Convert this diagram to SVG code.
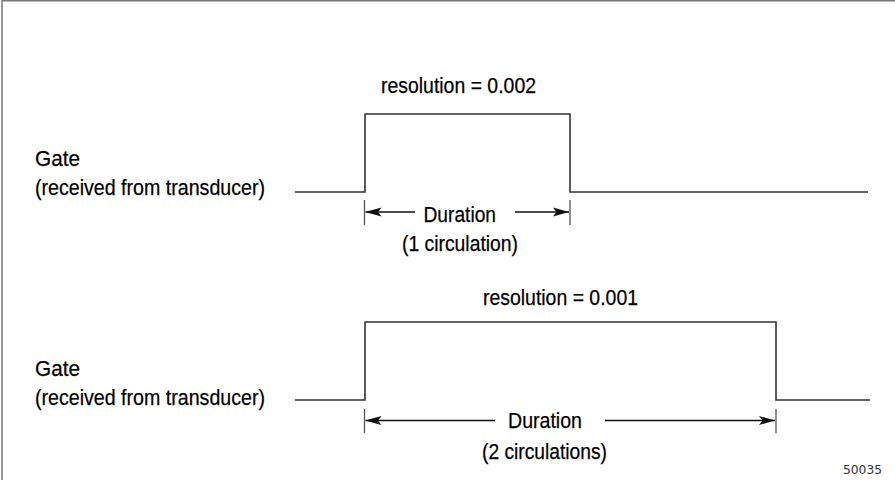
<svg xmlns="http://www.w3.org/2000/svg" width="895" height="480" viewBox="0 0 895 480">
<style>
  .t { font-family: "Liberation Sans", Arial, sans-serif; font-size: 22px; fill: #000; stroke: #000; stroke-width: 0.25; }
  .wave { fill: none; stroke: #333; stroke-width: 1.6; }
  .tick { stroke: #555; stroke-width: 1.3; }
  .arr { stroke: #111; stroke-width: 1.4; fill: none; }
  .frame { stroke: #777; stroke-width: 1.5; fill: none; }
  .code { font-family: "DejaVu Sans", sans-serif; font-size: 12px; fill: #333; }
</style>
<defs>
  <marker id="ah" viewBox="0 0 16 10" refX="16" refY="5" markerWidth="16" markerHeight="10" markerUnits="userSpaceOnUse" orient="auto">
    <path d="M0,0.5 L16,5 L0,9.5 L3.5,5 Z" fill="#111"/>
  </marker>
</defs>
<rect width="895" height="480" fill="#fff"/>
<g id="frame">
  <path class="frame" d="M2,480 L2,0.7 L895,0.7"/>
</g>

<g id="gate1">
  <text class="t" x="35" y="166" textLength="45" lengthAdjust="spacingAndGlyphs">Gate</text>
  <text class="t" x="35" y="195" textLength="230" lengthAdjust="spacingAndGlyphs">(received from transducer)</text>
  <text class="t" x="381" y="93" textLength="155" lengthAdjust="spacingAndGlyphs">resolution = 0.002</text>
  <path class="wave" d="M295,192 L365,192 L365,114 L570,114 L570,192 L868,192"/>
</g>

<g id="gate2">
  <text class="t" x="35" y="376" textLength="45" lengthAdjust="spacingAndGlyphs">Gate</text>
  <text class="t" x="35" y="405" textLength="230" lengthAdjust="spacingAndGlyphs">(received from transducer)</text>
  <text class="t" x="483" y="305" textLength="155" lengthAdjust="spacingAndGlyphs">resolution = 0.001</text>
  <path class="wave" d="M295,400 L365,400 L365,322 L776,322 L776,400 L870,400"/>
</g>

<g id="duration1">
  <text class="t" x="423.5" y="222" textLength="72.5" lengthAdjust="spacingAndGlyphs">Duration</text>
  <text class="t" x="402" y="251" textLength="116" lengthAdjust="spacingAndGlyphs">(1 circulation)</text>
</g>

<g id="duration2">
  <text class="t" x="508" y="428" textLength="74" lengthAdjust="spacingAndGlyphs">Duration</text>
  <text class="t" x="482" y="459" textLength="125" lengthAdjust="spacingAndGlyphs">(2 circulations)</text>
</g>

<g id="connectors">
  <line class="tick" x1="364.5" y1="200" x2="364.5" y2="225"/>
  <line class="tick" x1="570" y1="200" x2="570" y2="225"/>
  <line class="arr" x1="415" y1="212" x2="365.5" y2="212" marker-end="url(#ah)"/>
  <line class="arr" x1="515" y1="212" x2="569" y2="212" marker-end="url(#ah)"/>

  <line class="tick" x1="364.5" y1="409" x2="364.5" y2="433"/>
  <line class="tick" x1="776" y1="409" x2="776" y2="433"/>
  <line class="arr" x1="495" y1="420.5" x2="365.5" y2="420.5" marker-end="url(#ah)"/>
  <line class="arr" x1="605" y1="420.5" x2="775" y2="420.5" marker-end="url(#ah)"/>
</g>

<text class="code" x="843" y="474" textLength="39" lengthAdjust="spacingAndGlyphs">50035</text>
</svg>
